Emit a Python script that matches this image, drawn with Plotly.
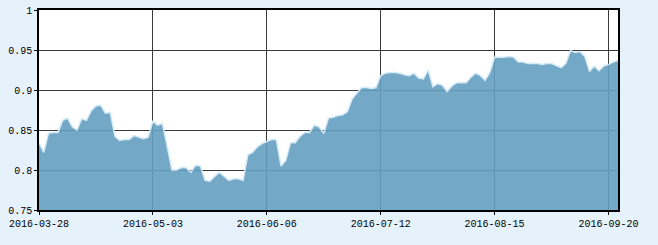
import pandas as pd
import plotly.graph_objects as go

# Trading days (Chinese market) between 2016-03-28 and 2016-09-22
start_date = "2016-03-28"
end_date = "2016-09-22"
holidays = ["2016-04-04", "2016-05-02", "2016-06-09", "2016-06-10",
            "2016-09-15", "2016-09-16"]
dates = [d.strftime("%Y-%m-%d") for d in pd.bdate_range(start_date, end_date)
         if d.strftime("%Y-%m-%d") not in holidays]

values = [
    0.834, 0.822, 0.846, 0.847, 0.847, 0.862, 0.865, 0.854, 0.850, 0.864,
    0.862, 0.874, 0.880, 0.881, 0.871, 0.872, 0.842, 0.837, 0.838, 0.838,
    0.843, 0.841, 0.839, 0.841, 0.861, 0.856, 0.858, 0.830, 0.800, 0.800,
    0.803, 0.803, 0.797, 0.806, 0.805, 0.787, 0.786, 0.792, 0.797, 0.792,
    0.787, 0.789, 0.789, 0.787, 0.819, 0.822, 0.829, 0.833, 0.836, 0.838,
    0.838, 0.805, 0.812, 0.834, 0.834, 0.842, 0.847, 0.847, 0.856, 0.854,
    0.846, 0.865, 0.866, 0.868, 0.869, 0.873, 0.889, 0.896, 0.903, 0.903,
    0.902, 0.903, 0.918, 0.921, 0.922, 0.922, 0.921, 0.919, 0.918, 0.921,
    0.915, 0.914, 0.925, 0.904, 0.908, 0.906, 0.898, 0.905, 0.909, 0.909,
    0.909, 0.916, 0.921, 0.918, 0.912, 0.922, 0.941, 0.941, 0.941, 0.942,
    0.941, 0.935, 0.935, 0.933, 0.933, 0.933, 0.932, 0.933, 0.933, 0.930,
    0.928, 0.933, 0.949, 0.947, 0.948, 0.942, 0.923, 0.930, 0.924, 0.930,
    0.932, 0.935, 0.937,
]

x_tick_step = 24
x_ticks = dates[::x_tick_step]
y_ticks = [0.75, 0.8, 0.85, 0.9, 0.95, 1.0]
y_tick_text = ["0.75", "0.8", "0.85", "0.9", "0.95", "1"]

fig = go.Figure()
fig.add_trace(go.Scatter(
    x=dates, y=values, mode="lines", fill="tozeroy",
    fillcolor="rgba(100,158,192,0.9)",
    line=dict(color="#d4e9f6", width=1.5),
    hoverinfo="x+y",
))

font = dict(family="Liberation Mono, DejaVu Sans Mono, monospace", size=10, color="#000")

fig.update_layout(
    width=658, height=245,
    margin=dict(l=39, r=40, t=10, b=35, autoexpand=False),
    paper_bgcolor="#e6f2fb",
    plot_bgcolor="#ffffff",
    showlegend=False,
    font=font,
)
fig.update_xaxes(
    type="category", range=[0, len(dates) - 1],
    tickmode="array", tickvals=x_ticks, ticktext=x_ticks,
    showgrid=True, gridcolor="#3a3a3a", gridwidth=1,
    showline=True, linecolor="#000", linewidth=1.5, mirror=True,
    ticks="outside", ticklen=3, tickcolor="#000",
    tickangle=0, tickfont=font, automargin=False,
)
fig.update_yaxes(
    range=[0.75, 1.0],
    tickmode="array", tickvals=y_ticks, ticktext=y_tick_text,
    showgrid=True, gridcolor="#3a3a3a", gridwidth=1,
    showline=True, linecolor="#000", linewidth=1.5, mirror=True,
    ticks="outside", ticklen=3, tickcolor="#000",
    tickfont=font, zeroline=False, automargin=False,
)

fig.write_html("out.html")
